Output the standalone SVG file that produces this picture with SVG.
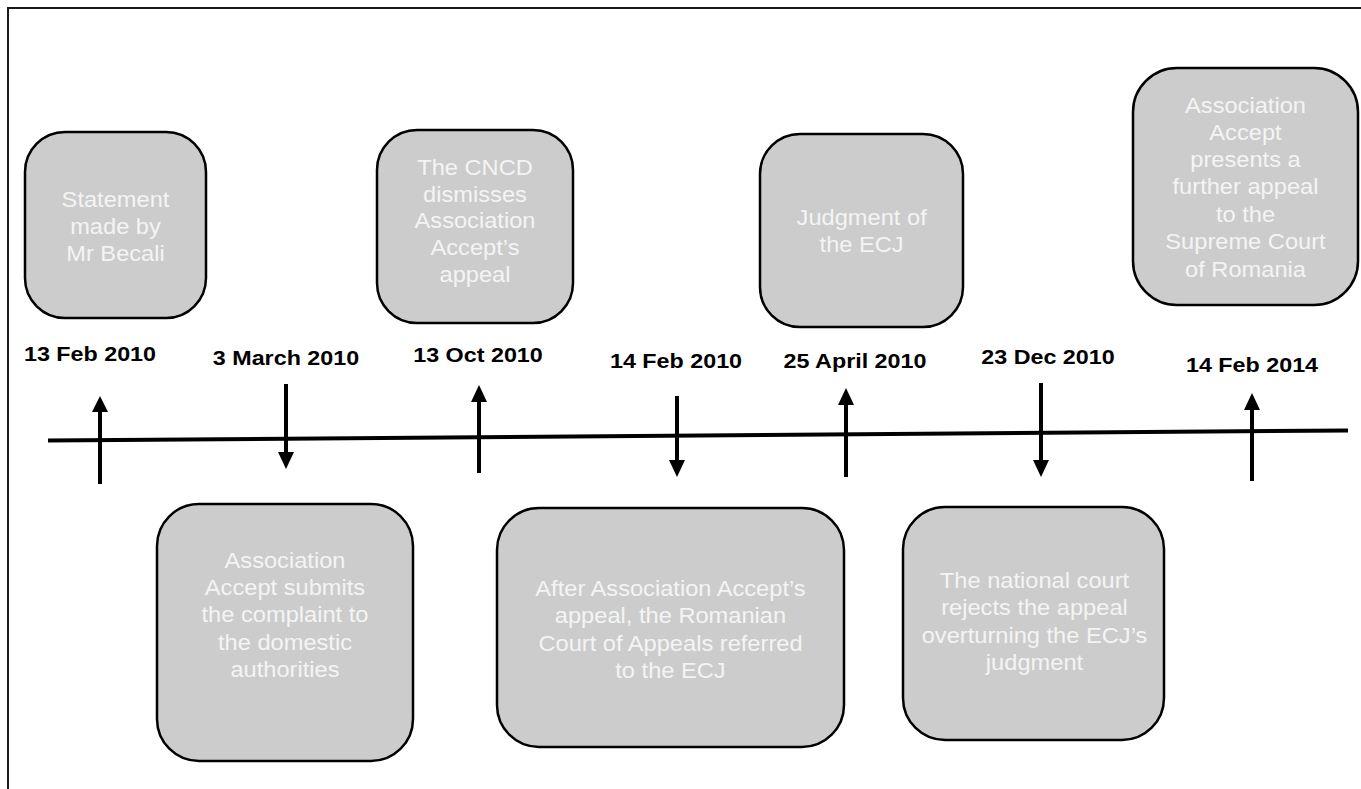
<svg xmlns="http://www.w3.org/2000/svg" width="1361" height="789" viewBox="0 0 1361 789">
<style>
.box{fill:#cccccc;stroke:#000;stroke-width:2.5}
.bt{font-family:"Liberation Sans",Arial,sans-serif;font-size:21.3px;fill:#f4f4f4;text-anchor:middle}
.dt{font-family:"Liberation Sans",Arial,sans-serif;font-size:21px;font-weight:bold;fill:#000;text-anchor:middle}
.ln{stroke:#000;stroke-width:4;fill:none}
.hd{fill:#000}
</style>
<rect width="1361" height="789" fill="#fff"/>
<g id="frame">
<path d="M8 789 V8 H1361" fill="none" stroke="#1a1a1a" stroke-width="2"/>
</g>
<g id="connectors">
<line class="ln" x1="48" y1="440.5" x2="1348" y2="430.5"/>
<line class="ln" x1="100" y1="484" x2="100" y2="410"/><polygon class="hd" points="100,396 92,412 108,412"/>
<line class="ln" x1="286" y1="384" x2="286" y2="455"/><polygon class="hd" points="286,469 278,452 294,452"/>
<line class="ln" x1="479" y1="473" x2="479" y2="399"/><polygon class="hd" points="479,385 471,402 487,402"/>
<line class="ln" x1="677" y1="396" x2="677" y2="463"/><polygon class="hd" points="677,477 669,460 685,460"/>
<line class="ln" x1="846" y1="477" x2="846" y2="402"/><polygon class="hd" points="846,388 838,405 854,405"/>
<line class="ln" x1="1041" y1="383" x2="1041" y2="463"/><polygon class="hd" points="1041,477 1033,460 1049,460"/>
<line class="ln" x1="1252" y1="481" x2="1252" y2="407"/><polygon class="hd" points="1252,393 1244,410 1260,410"/>
</g>
<g id="dates">
<text class="dt" x="90" y="361" transform="matrix(1.11 0 0 1 -9.9 0)">13 Feb 2010</text>
<text class="dt" x="286" y="365" transform="matrix(1.11 0 0 1 -31.46 0)">3 March 2010</text>
<text class="dt" x="478" y="362" transform="matrix(1.11 0 0 1 -52.58 0)">13 Oct 2010</text>
<text class="dt" x="676" y="368" transform="matrix(1.11 0 0 1 -74.36 0)">14 Feb 2010</text>
<text class="dt" x="855" y="368" transform="matrix(1.11 0 0 1 -94.05 0)">25 April 2010</text>
<text class="dt" x="1048" y="364" transform="matrix(1.11 0 0 1 -115.28 0)">23 Dec 2010</text>
<text class="dt" x="1252" y="372" transform="matrix(1.11 0 0 1 -137.72 0)">14 Feb 2014</text>
</g>
<g id="n1">
<rect class="box" x="25" y="132" width="181" height="186" rx="40"/>
<text class="bt" transform="matrix(1.11 0 0 1 -12.7 0)"><tspan x="115.5" y="207">Statement</tspan><tspan x="115.5" y="234">made by</tspan><tspan x="115.5" y="261">Mr Becali</tspan></text>
</g>
<g id="n2">
<rect class="box" x="157" y="504" width="256" height="257" rx="42"/>
<text class="bt" transform="matrix(1.11 0 0 1 -31.35 0)"><tspan x="285" y="568">Association</tspan><tspan x="285" y="595">Accept submits</tspan><tspan x="285" y="622">the complaint to</tspan><tspan x="285" y="650">the domestic</tspan><tspan x="285" y="677">authorities</tspan></text>
</g>
<g id="n3">
<rect class="box" x="377" y="130" width="196" height="193" rx="40"/>
<text class="bt" transform="matrix(1.11 0 0 1 -52.25 0)"><tspan x="475" y="175">The CNCD</tspan><tspan x="475" y="202">dismisses</tspan><tspan x="475" y="228">Association</tspan><tspan x="475" y="255">Accept’s</tspan><tspan x="475" y="282">appeal</tspan></text>
</g>
<g id="n4">
<rect class="box" x="497" y="508" width="347" height="239" rx="42"/>
<text class="bt" transform="matrix(1.11 0 0 1 -73.76 0)"><tspan x="670.5" y="596">After Association Accept’s</tspan><tspan x="670.5" y="623">appeal, the Romanian</tspan><tspan x="670.5" y="651">Court of Appeals referred</tspan><tspan x="670.5" y="678">to the ECJ</tspan></text>
</g>
<g id="n5">
<rect class="box" x="760" y="134" width="203" height="193" rx="40"/>
<text class="bt" transform="matrix(1.11 0 0 1 -94.6 0)"><tspan x="861.5" y="225">Judgment of</tspan><tspan x="861.5" y="252">the ECJ</tspan></text>
</g>
<g id="n6">
<rect class="box" x="903" y="507" width="261" height="233" rx="42"/>
<text class="bt" transform="matrix(1.11 0 0 1 -113.79 0)"><tspan x="1034.5" y="588">The national court</tspan><tspan x="1034.5" y="615">rejects the appeal</tspan><tspan x="1034.5" y="643">overturning the ECJ’s</tspan><tspan x="1034.5" y="670">judgment</tspan></text>
</g>
<g id="n7">
<rect class="box" x="1133" y="68" width="225" height="237" rx="44"/>
<text class="bt" transform="matrix(1.11 0 0 1 -137.0 0)"><tspan x="1245.5" y="113">Association</tspan><tspan x="1245.5" y="140">Accept</tspan><tspan x="1245.5" y="167">presents a</tspan><tspan x="1245.5" y="194">further appeal</tspan><tspan x="1245.5" y="222">to the</tspan><tspan x="1245.5" y="249">Supreme Court</tspan><tspan x="1245.5" y="277">of Romania</tspan></text>
</g>
</svg>
